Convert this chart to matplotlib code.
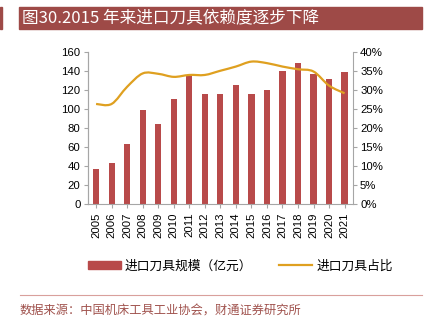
import numpy as np
import matplotlib
matplotlib.use('Agg')
import matplotlib.pyplot as plt
from matplotlib.path import Path
from matplotlib.patches import PathPatch, Rectangle
from matplotlib.lines import Line2D

plt.rcParams['font.family'] = ['Liberation Sans', 'Noto Sans CJK SC', 'DejaVu Sans']
cjk = ['Noto Sans CJK SC', 'DejaVu Sans']

# 数据
years = ['2005', '2006', '2007', '2008', '2009', '2010', '2011', '2012', '2013',
         '2014', '2015', '2016', '2017', '2018', '2019', '2020', '2021']
scale = [37, 43, 63, 98.5, 84, 110.5, 135.5, 116, 116, 125, 116, 120, 139.5, 148.5, 136.5, 131, 138.5]
share = [26.3, 26.3, 30.8, 34.3, 34.2, 33.4, 33.9, 33.9, 35.0, 36.1, 37.4, 37.0, 36.1, 35.4, 34.8, 31.1, 29.1]

bar_color = '#B84A4A'
line_color = '#DFA020'
title_color = '#9E4A47'
axis_color = '#A6A6A6'


def smooth_path(xs, ys, t=1/6):
    # 平滑折线 (Catmull-Rom 转三次贝塞尔)
    xs = np.asarray(xs, float)
    ys = np.asarray(ys, float)
    verts = [(xs[0], ys[0])]
    codes = [Path.MOVETO]
    n = len(xs)
    for i in range(n - 1):
        p0 = i - 1 if i > 0 else i
        p3 = i + 2 if i + 2 < n else i + 1
        c1 = (xs[i] + (xs[i + 1] - xs[p0]) * t, ys[i] + (ys[i + 1] - ys[p0]) * t)
        c2 = (xs[i + 1] - (xs[p3] - xs[i]) * t, ys[i + 1] - (ys[p3] - ys[i]) * t)
        verts += [c1, c2, (xs[i + 1], ys[i + 1])]
        codes += [Path.CURVE4] * 3
    return Path(verts, codes)


fig = plt.figure(figsize=(4.27, 3.23), dpi=100)
ax = fig.add_axes([0.205, 0.3675, 0.622, 0.4725])
ax2 = ax.twinx()

x = np.arange(len(years))
ax.bar(x, scale, width=0.4, color=bar_color, zorder=2)
ax.set_xlim(-0.55, len(years) - 0.45)
ax.set_ylim(0, 160)
ax.set_yticks(range(0, 161, 20))
ax.set_xticks(x)
ax.set_xticklabels(years, rotation=90, fontsize=8.2)
ax.tick_params(axis='y', labelsize=8.2, length=3, color=axis_color, pad=2)
ax.tick_params(axis='x', length=3, color=axis_color, pad=3)

ax2.set_ylim(0, 40)
ax2.set_yticks(range(0, 41, 5))
ax2.set_yticklabels([f'{v}%' for v in range(0, 41, 5)])
ax2.tick_params(axis='y', labelsize=8.2, length=3, color=axis_color, pad=2)
ax2.add_patch(PathPatch(smooth_path(x, share), facecolor='none',
                        edgecolor=line_color, lw=1.6, zorder=3))

for a in (ax, ax2):
    a.spines['top'].set_visible(False)
    for s in ('left', 'right', 'bottom'):
        a.spines[s].set_color(axis_color)
ax2.spines['bottom'].set_visible(False)
ax.spines['right'].set_visible(False)

# 图例
handles = [Rectangle((0, 0), 1, 1, color=bar_color),
           Line2D([0], [0], color=line_color, lw=1.6)]
fig.legend(handles, ['进口刀具规模（亿元）', '进口刀具占比'], loc='center left',
           bbox_to_anchor=(84 / 427, 0.176), ncol=2, frameon=False,
           prop={'family': cjk, 'size': 9.2}, handlelength=2.6,
           handleheight=0.55, columnspacing=2.1, handletextpad=0.3,
           borderaxespad=0, borderpad=0.3)

# 标题栏
fig.patches.append(Rectangle((19 / 427, 1 - 29 / 323), 403 / 427, 22 / 323,
                             transform=fig.transFigure, color=title_color))
fig.patches.append(Rectangle((0, 1 - 29 / 323), 2 / 427, 22 / 323,
                             transform=fig.transFigure, color=title_color))
fig.text(22 / 427, 1 - 18 / 323, '图30.2015 年来进口刀具依赖度逐步下降',
         color='white', fontsize=12, family=cjk, va='center', ha='left')

# 底部分隔线与来源
fig.add_artist(Line2D([20 / 427, 422 / 427], [1 - 295 / 323, 1 - 295 / 323],
                      color='#D9A09C', lw=0.8))
fig.text(20 / 427, 1 - 311 / 323, '数据来源：中国机床工具工业协会，财通证券研究所',
         color='#A0524D', fontsize=8.8, family=cjk, va='center', ha='left')

fig.savefig('out.png', dpi=100)
